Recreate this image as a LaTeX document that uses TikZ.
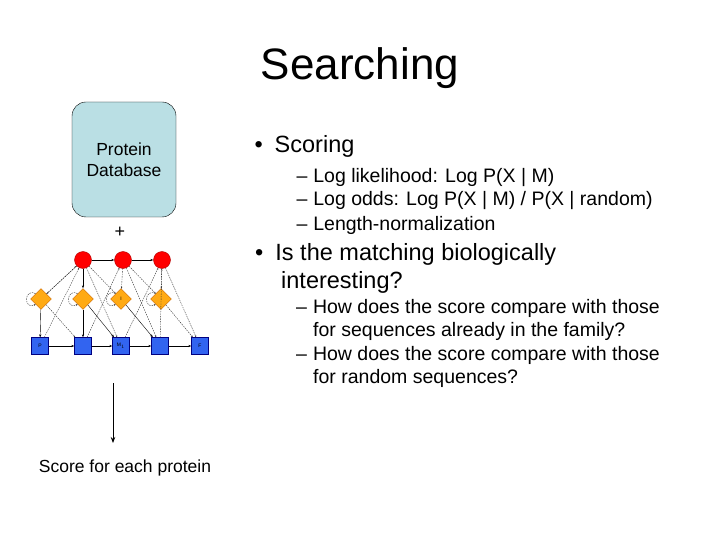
\documentclass[tikz,border=0pt]{standalone}
\usepackage{fontspec}
\setmainfont{Liberation Sans}
\usetikzlibrary{arrows.meta,shapes.geometric}
\begin{document}
\begin{tikzpicture}[x=1pt,y=-1pt,
  circ/.style={circle,fill=red,draw=red!70!black,minimum size=17pt,inner sep=0},
  dia/.style={diamond,fill={rgb,255:red,255;green,170;blue,20},draw=orange!80!black,minimum size=21pt,inner sep=0},
  sq/.style={rectangle,fill={rgb,255:red,50;green,100;blue,240},draw=blue!50!black,minimum size=17pt,inner sep=0,font=\fontsize{5}{5}\selectfont},
  sol/.style={-{Stealth[length=3pt]},thin},
  dsh/.style={-{Stealth[length=2pt]},dashed,dash pattern=on 1.5pt off 1pt,thin,black!80},
  big/.style={font=\fontsize{23.5}{28}\selectfont,anchor=west},
  sub/.style={font=\fontsize{19.5}{23}\selectfont,anchor=west,align=left}]
\useasboundingbox (0,0) rectangle (720,540);
\node[font=\fontsize{44}{52}\selectfont] (title) at (360,68) {Searching};
\node[draw=black,fill={rgb,255:red,186;green,223;blue,228},rounded corners=14pt,minimum width=104pt,minimum height=115pt,font=\fontsize{17.5}{21}\selectfont,align=center] (db) at (124,159.5) {Protein\\Database};
\node[font=\fontsize{18}{21}\selectfont] (plus) at (120,232) {+};
% HMM
\foreach \i/\x in {1/83,2/123,3/162} \node[circ] (c\i) at (\x,260) {};
\foreach \i/\x in {1/41,2/83,3/121,4/161} \node[dia] (d\i) at (\x,299) {};
\node[sq] (s1) at (40,346) {P};
\node[sq] (s2) at (83,346) {};
\node[sq] (s3) at (121,346) {M$_1$};
\node[sq] (s4) at (160,346) {};
\node[sq] (s5) at (200,346) {F};
\node[font=\fontsize{5}{5}\selectfont] (lab) at (121,299) {I};
\draw[sol] (c1)--(c2); \draw[sol] (c2)--(c3);
\foreach \a/\b in {s1/s2,s2/s3,s3/s4,s4/s5,c1/d2,d2/s2,d1/s1,d2/s3,d3/s4} \draw[sol] (\a)--(\b);
\foreach \a/\b in {d1/s2,s1/c1,s2/c2,s3/c3,c1/d3,c2/d4,c1/s3,c2/s4,c3/s5,d4/s5,c2/d3,c3/d4,d1/c1,c1/d1,s4/c3} \draw[dsh] (\a)--(\b);
\foreach \i in {1,...,4} \draw[dsh] (d\i.north west) .. controls +(-12,-6) and +(-12,6) .. (d\i.south west);
\coordinate (a1) at (113,383); \coordinate (a2) at (113,443);
\draw[-{Stealth[length=6pt]},thick] (a1)--(a2);
\node[font=\fontsize{17.5}{21}\selectfont] (score) at (125,468) {Score for each protein};
% text
\node[big] (b1) at (251,146) {•\hspace{12pt}Scoring};
\node[sub] (t1) at (293,178) {–\hspace{6pt}Log likelihood: Log P(X | M)};
\node[sub] (t2) at (293,201) {–\hspace{6pt}Log odds: Log P(X | M) / P(X | random)};
\node[sub] (t3) at (293,225) {–\hspace{6pt}Length-normalization};
\node[big,align=left,anchor=north west,inner sep=0pt] (b2) at (255,243) {•\hspace{12pt}Is the matching biologically\\\hspace{26pt}interesting?};
\node[sub,anchor=north west,inner sep=0pt] (t4) at (296,299) {–\hspace{6pt}How does the score compare with those\\\hspace{17pt}for sequences already in the family?};
\node[sub,anchor=north west,inner sep=0pt] (t5) at (296,346) {–\hspace{6pt}How does the score compare with those\\\hspace{17pt}for random sequences?};
\end{tikzpicture}
\end{document}
